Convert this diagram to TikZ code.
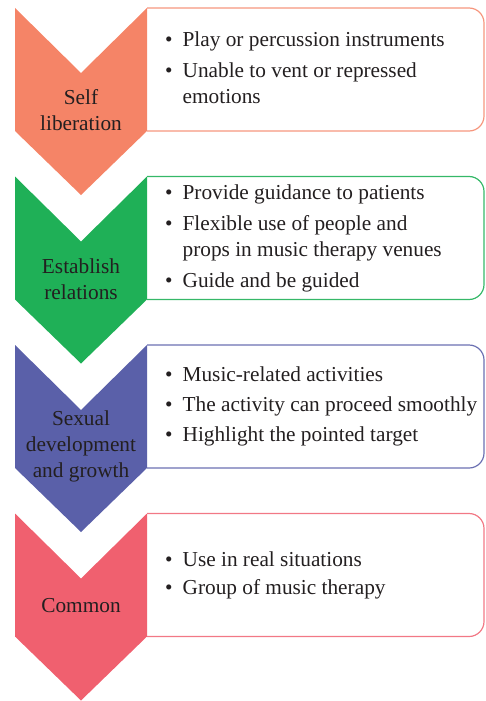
\documentclass[tikz,border=0pt]{standalone}
\usepackage{fontspec}
\setmainfont{Liberation Serif}
\usepackage{tikz}

\definecolor{salmon}{HTML}{F58467}
\definecolor{leaf}{HTML}{1FB057}
\definecolor{indigo}{HTML}{5A60A9}
\definecolor{rose}{HTML}{F0606F}
\definecolor{ink}{HTML}{231F20}

\begin{document}
\begin{tikzpicture}[x=1pt, y=-1pt,
		chevron_style/.style={draw=none},
		box_style/.style={line width=1.2pt, rounded corners=15pt},
		label_style/.style={align=center, inner sep=0pt, text=ink,
			font=\fontsize{21.3}{26}\selectfont},
		item_style/.style={anchor=west, inner sep=0pt, text=ink,
			font=\fontsize{21.3}{26}\selectfont}]

		\useasboundingbox (0,0) rectangle (485,701);

		% boxes on the right, left edge hidden under the chevrons
		\draw[box_style, draw=salmon!85] (147,8) -- (484,8) -- (484,131) -- (147,131);
		\draw[box_style, draw=leaf!90] (147,176.5) -- (484,176.5) -- (484,299.5) -- (147,299.5);
		\draw[box_style, draw=indigo!90] (147,345) -- (484,345) -- (484,468) -- (147,468);
		\draw[box_style, draw=rose!85] (147,513.5) -- (484,513.5) -- (484,636.5) -- (147,636.5);

		% chevrons
		\fill[chevron_style, salmon] (15,8) -- (81,73) -- (147,8) -- (147,131) -- (81,195) -- (15,131) -- cycle;
		\fill[chevron_style, leaf] (15,176.5) -- (81,241.5) -- (147,176.5) -- (147,299.5) -- (81,363.5) -- (15,299.5) -- cycle;
		\fill[chevron_style, indigo] (15,345) -- (81,410) -- (147,345) -- (147,468) -- (81,532) -- (15,468) -- cycle;
		\fill[chevron_style, rose] (15,513.5) -- (81,578.5) -- (147,513.5) -- (147,636.5) -- (81,700.5) -- (15,636.5) -- cycle;

		\node[label_style] (l1) at (81,110) {Self\\liberation};
		\node[label_style] (l2) at (81,279) {Establish\\relations};
		\node[label_style] (l3) at (81,446) {Sexual\\development\\and growth};
		\node[label_style] (l4) at (81,606) {Common};

		\node[item_style] (t1) at (165,69.5) {\begin{tabular}{@{}l@{\hspace{10pt}}l@{}}
			\textbullet & Play or percussion instruments\\[5pt]
			\textbullet & Unable to vent or repressed\\
			& emotions
		\end{tabular}};
		\node[item_style] (t2) at (165,238) {\begin{tabular}{@{}l@{\hspace{10pt}}l@{}}
			\textbullet & Provide guidance to patients\\[5pt]
			\textbullet & Flexible use of people and\\
			& props in music therapy venues\\[5pt]
			\textbullet & Guide and be guided
		\end{tabular}};
		\node[item_style] (t3) at (165,406.5) {\begin{tabular}{@{}l@{\hspace{10pt}}l@{}}
			\textbullet & Music-related activities\\[4pt]
			\textbullet & The activity can proceed smoothly\\[4pt]
			\textbullet & Highlight the pointed target
		\end{tabular}};
		\node[item_style] (t4) at (165,575) {\begin{tabular}{@{}l@{\hspace{10pt}}l@{}}
			\textbullet & Use in real situations\\[2pt]
			\textbullet & Group of music therapy
		\end{tabular}};

\end{tikzpicture}
\end{document}
